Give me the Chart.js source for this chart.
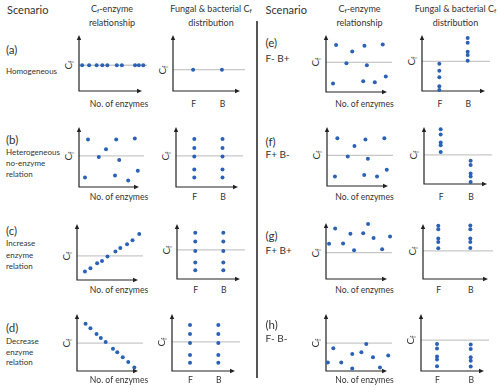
<!DOCTYPE html>
<html>
<head>
<meta charset="utf-8">
<script src="https://cdn.jsdelivr.net/npm/chart.js@4.4.1/dist/chart.umd.min.js"></script>
<style>
  html, body { margin: 0; padding: 0; background: #fff; }
  #fig { position: relative; width: 500px; height: 392px; overflow: hidden; font-family: Lato, 'Open Sans', sans-serif; color: #333; }
  .t { position: absolute; white-space: nowrap; line-height: 1; }
  .t sub { font-size: 0.7em; vertical-align: -0.25em; line-height: 0; }
  canvas { position: absolute; }
  #divider { position: absolute; left: 256px; top: 21px; width: 1.5px; height: 357px; background: #555; }
</style>
</head>
<body>
<div id="fig"><div id="divider"></div></div>
<script>
// scenario labels
const scenarioIds = ['(a)', '(b)', '(c)', '(d)', '(e)', '(f)', '(g)', '(h)'];
const scenarioDesc = [
  ['Homogeneous'],
  ['Heterogeneous', 'no-enzyme', 'relation'],
  ['Increase', 'enzyme', 'relation'],
  ['Decrease', 'enzyme', 'relation'],
  ['F- B+'], ['F+ B-'], ['F+ B+'], ['F- B-']
];
const groupLabels = ['F', 'B'];
const enzAxisLabel = 'No. of enzymes';

// Cf vs number of enzymes (0 = x axis, 10 = top of y axis)
const enzX_a = [0.5, 1.6, 2.8, 3.7, 4.5, 6.0, 6.8, 8.9, 9.5, 10.2];
const enzY_a = [4.6, 4.6, 4.6, 4.6, 4.6, 4.6, 4.6, 4.6, 4.6, 4.6];
const enzX_b = [1.5, 4.5, 3.3, 6.2, 6.7, 9.3, 1.0, 6.0, 8.2, 9.8];
const enzY_b = [7.9, 6.3, 5.0, 7.9, 4.5, 8.1, 1.6, 1.9, 1.1, 2.7];
const enzX_c = [1.3, 2.2, 3.3, 4.1, 5.0, 6.3, 7.1, 8.2, 9.1, 10.2];
const enzY_c = [1.5, 2.1, 3.0, 3.4, 4.2, 5.1, 5.7, 6.4, 7.1, 8.2];
const enzX_d = [1.4, 2.2, 3.2, 3.9, 4.7, 5.9, 6.6, 7.5, 8.4, 9.4];
const enzY_d = [8.3, 7.5, 6.5, 5.8, 5.1, 3.9, 3.3, 2.4, 1.6, 0.6];
const enzX_e = [1.65, 4.3, 3.35, 6.3, 6.7, 9.3, 1.15, 6.1, 8.0, 9.8];
const enzY_e = [8.25, 7.1, 5.05, 8.1, 4.7, 8.35, 1.5, 1.9, 1.7, 2.7];
const enzX_f = [1.7, 4.5, 3.4, 6.3, 6.7, 9.4, 1.3, 6.1, 8.2, 9.8];
const enzY_f = [8.1, 6.8, 5.0, 7.9, 4.6, 8.1, 1.6, 1.85, 1.6, 2.75];
const enzX_g = [0.5, 1.5, 2.8, 4.0, 4.6, 6.1, 6.9, 7.8, 9.2, 10.5];
const enzY_g = [6.3, 9.0, 6.35, 8.1, 5.15, 8.15, 9.8, 7.3, 5.3, 7.6];
const enzX_h = [0.3, 1.2, 2.5, 4.3, 4.3, 5.8, 6.6, 7.7, 8.85, 10.2];
const enzY_h = [1.5, 4.0, 1.5, 3.0, 0.45, 3.3, 4.75, 2.4, 0.6, 2.7];
const enzRef = [4.6, 5.2, 4.3, 4.9, 5.2, 5.2, 4.7, 4.9];

// Fungal (F) and bacterial (B) Cf values
const fungi_a = [3.8];
const bact_a = [3.8];
const fungi_b = [8.0, 6.5, 5.1, 2.9, 1.6];
const bact_b = [8.0, 6.5, 5.1, 2.9, 1.6];
const fungi_c = [8.4, 6.8, 5.1, 3.0, 1.6];
const bact_c = [8.4, 6.8, 5.1, 3.0, 1.6];
const fungi_d = [8.05, 6.5, 4.9, 2.8, 1.45];
const bact_d = [8.05, 6.5, 4.9, 2.8, 1.45];
const fungi_e = [4.85, 3.6, 2.45, 0.85, 0.2];
const bact_e = [9.45, 8.6, 7.0, 6.45, 5.4];
const fungi_f = [9.6, 8.7, 7.3, 6.8, 5.6];
const bact_f = [4.1, 3.35, 1.85, 1.3, 0.35];
const fungi_g = [9.7, 9.05, 7.35, 6.75, 5.6];
const bact_g = [9.75, 9.05, 7.35, 6.75, 5.65];
const fungi_h = [4.75, 3.95, 2.55, 2.0, 0.85];
const bact_h = [4.65, 3.85, 2.4, 1.8, 0.8];
const distRef = [3.8, 5.2, 5.3, 5.1, 5.3, 5.1, 5.1, 5.4];

const enzX = [enzX_a, enzX_b, enzX_c, enzX_d, enzX_e, enzX_f, enzX_g, enzX_h];
const enzY = [enzY_a, enzY_b, enzY_c, enzY_d, enzY_e, enzY_f, enzY_g, enzY_h];
const fungi = [fungi_a, fungi_b, fungi_c, fungi_d, fungi_e, fungi_f, fungi_g, fungi_h];
const bact = [bact_a, bact_b, bact_c, bact_d, bact_e, bact_f, bact_g, bact_h];

// layout: pixel boxes of the plot areas, where F and B columns sit, label rows
const boxes = [
  { enz: { l: 79, r: 142, t: 33, b: 91 },  dist: { l: 173, r: 240, t: 33, b: 91 },  fPos: 0.30, bPos: 0.73, labY: 104 },
  { enz: { l: 79, r: 139, t: 125, b: 187 }, dist: { l: 176, r: 238, t: 125, b: 187 }, fPos: 0.295, bPos: 0.75, labY: 197 },
  { enz: { l: 77, r: 138, t: 222, b: 280 }, dist: { l: 177, r: 240, t: 222, b: 279 }, fPos: 0.29, bPos: 0.735, labY: 290 },
  { enz: { l: 77, r: 138, t: 312, b: 371 }, dist: { l: 172, r: 235, t: 312, b: 371 }, fPos: 0.286, bPos: 0.735, labY: 380 },
  { enz: { l: 326, r: 387, t: 33, b: 92 },  dist: { l: 422, r: 485, t: 33, b: 91 },  fPos: 0.275, bPos: 0.725, labY: 103.5 },
  { enz: { l: 327, r: 388, t: 125, b: 186 }, dist: { l: 424, r: 487, t: 125, b: 184 }, fPos: 0.265, bPos: 0.74, labY: 197 },
  { enz: { l: 326, r: 387, t: 221, b: 279 }, dist: { l: 423, r: 488, t: 222, b: 279 }, fPos: 0.235, bPos: 0.728, labY: 290 },
  { enz: { l: 326, r: 387, t: 312, b: 371 }, dist: { l: 421, r: 484, t: 312, b: 371 }, fPos: 0.254, bPos: 0.789, labY: 380 }
];
const descY = [[50, 71], [140, 152.3, 163.3, 174.3], [231, 243.3, 254.7, 266], [327.7, 341, 351.7, 362.3],
               [43.3, 57.7], [141.7, 154.3], [235.7, 250], [325, 338.3]];

const fig = document.getElementById('fig');
const BLUE = '#2b62b6';

function addText(html, x, y, size, align, rotate) {
  const d = document.createElement('div');
  d.className = 't';
  d.innerHTML = html;
  d.style.fontSize = size + 'px';
  d.style.left = x + 'px';
  d.style.top = y + 'px';
  let tr = align === 'center' ? 'translate(-50%,-50%)' : 'translateY(-50%)';
  if (rotate) tr += ' rotate(-90deg)';
  d.style.transform = tr;
  fig.appendChild(d);
  return d;
}

// axes with arrowheads and the grey mean-Cf line
const arrowAxes = {
  id: 'arrowAxes',
  beforeDatasetsDraw(chart, args, opts) {
    const { ctx, chartArea: a } = chart;
    const ry = chart.scales.y.getPixelForValue(opts.ref);
    ctx.save();
    ctx.strokeStyle = '#c8c8c8';
    ctx.lineWidth = 1.3;
    ctx.beginPath();
    ctx.moveTo(a.left, ry);
    ctx.lineTo(a.right + 5, ry);
    ctx.stroke();

    ctx.strokeStyle = '#222';
    ctx.fillStyle = '#222';
    ctx.lineWidth = 1.2;
    ctx.beginPath();
    ctx.moveTo(a.left, a.top + 3);
    ctx.lineTo(a.left, a.bottom);
    ctx.lineTo(a.right - 3, a.bottom);
    ctx.stroke();
    ctx.beginPath();
    ctx.moveTo(a.left, a.top);
    ctx.lineTo(a.left - 2.2, a.top + 5);
    ctx.lineTo(a.left + 2.2, a.top + 5);
    ctx.closePath();
    ctx.fill();
    ctx.beginPath();
    ctx.moveTo(a.right, a.bottom);
    ctx.lineTo(a.right - 5, a.bottom - 2.2);
    ctx.lineTo(a.right - 5, a.bottom + 2.2);
    ctx.closePath();
    ctx.fill();
    ctx.restore();
  }
};

function makePanel(box, datasets, ref, xMin, xMax) {
  const pad = { left: 4, right: 9, top: 2, bottom: 4 };
  const w = box.r - box.l + pad.left + pad.right;
  const h = box.b - box.t + pad.top + pad.bottom;
  const c = document.createElement('canvas');
  c.width = w; c.height = h;
  c.style.width = w + 'px'; c.style.height = h + 'px';
  c.style.left = (box.l - pad.left) + 'px';
  c.style.top = (box.t - pad.top) + 'px';
  fig.appendChild(c);
  const chart = new Chart(c, {
    type: 'scatter',
    data: { datasets: datasets },
    options: {
      responsive: false,
      animation: false,
      devicePixelRatio: 1,
      layout: { padding: pad },
      plugins: { legend: { display: false }, tooltip: { enabled: false }, arrowAxes: { ref: ref } },
      scales: {
        x: { type: 'linear', display: false, min: xMin, max: xMax },
        y: { type: 'linear', display: false, min: 0, max: 10 }
      }
    },
    plugins: [arrowAxes]
  });
  // Cf label, centred on the grey line
  const yPix = box.t - pad.top + chart.scales.y.getPixelForValue(ref);
  addText('C<sub>f</sub>', box.l - 11, yPix, 10, 'center', true);
  return chart;
}

function dots(points) {
  return { data: points, pointRadius: 2, pointBackgroundColor: BLUE, pointBorderWidth: 0, clip: false };
}

// headers
addText('Scenario', 7, 8.5, 11, 'left');
addText('Scenario', 265.5, 8.5, 11, 'left');
[[112, 211], [359.5, 455.5]].forEach(([cx1, cx2]) => {
  addText('C<sub>f</sub>-enzyme', cx1, 8, 9, 'center');
  addText('relationship', cx1, 21.7, 9, 'center');
  addText('Fungal &amp; bacterial C<sub>f</sub>', cx2, 8, 9, 'center');
  addText('distribution', cx2, 21.7, 9, 'center');
});

boxes.forEach((box, i) => {
  const right = i >= 4;
  // scenario text
  const tx = right ? 265.5 : 6;
  addText(scenarioIds[i], tx, descY[i][0], 11.5, 'left');
  scenarioDesc[i].forEach((s, k) => addText(s, tx, descY[i][k + 1], right ? 10 : 8, 'left'));

  // Cf vs enzymes
  const pts = enzX[i].map((x, k) => ({ x: x, y: enzY[i][k] }));
  makePanel(box.enz, [dots(pts)], enzRef[i], 0, 10);
  addText(enzAxisLabel, right ? 364.5 : 119, box.labY, 8.6, 'center');

  // F / B distribution
  const span = box.bPos - box.fPos;
  const xMin = -box.fPos / span, xMax = (1 - box.fPos) / span;
  const dsF = dots(fungi[i].map(y => ({ x: 0, y: y })));
  const dsB = dots(bact[i].map(y => ({ x: 1, y: y })));
  const ch = makePanel(box.dist, [dsF, dsB], distRef[i], xMin, xMax);
  groupLabels.forEach((g, k) => {
    const px = box.dist.l - 4 + ch.scales.x.getPixelForValue(k);
    addText(g, px + 0.5, box.labY, 8.6, 'center');
  });
});
</script>
</body>
</html>
